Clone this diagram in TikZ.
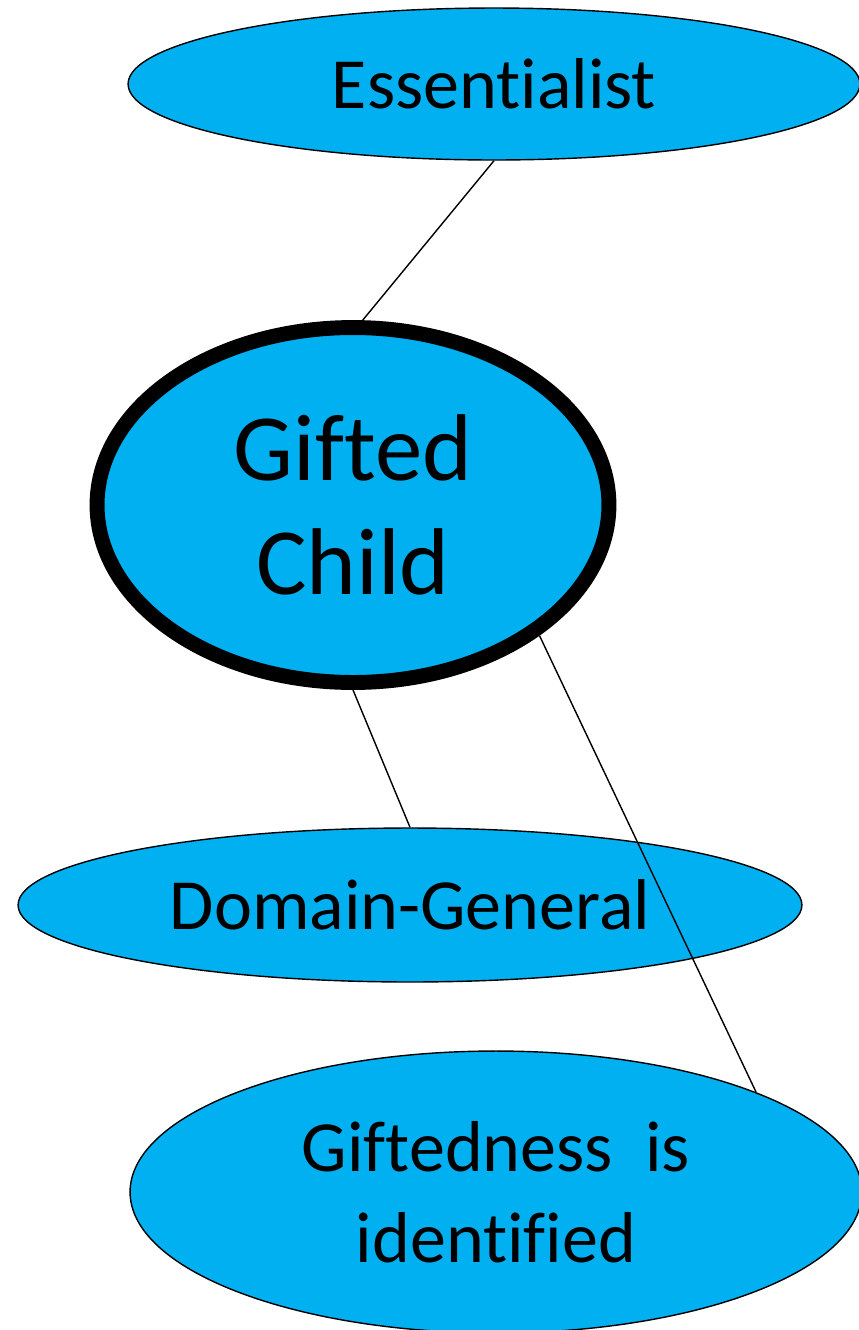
\documentclass[tikz,border=0pt]{standalone}
\usepackage{fontspec}
\setmainfont{Carlito}[Ligatures=NoCommon]
\usetikzlibrary{shapes.geometric}
\definecolor{skyfill}{RGB}{0,176,240}
\tikzset{
  bubble/.style = {ellipse, draw = black, fill = skyfill, line width = 0.8pt, inner sep = 0pt, align = center, font = \fontsize{41}{52}\selectfont},
  link/.style = {draw = black, line width = 0.8pt}
}
\begin{document}
\begin{tikzpicture}[x=0.02cm, y=-0.02cm]
        \useasboundingbox (0,0) rectangle (859,1330);
        \node[bubble, minimum width = 14.64cm, minimum height = 3.04cm] (ess) at (494,84) {Essentialist};
        \node[bubble, line width = 8.5pt, minimum width = 10.24cm, minimum height = 7.1cm, font = \fontsize{54}{64.6}\selectfont] (gc) at (353,505) {Gifted\\Child};
        \node[bubble, minimum width = 15.68cm, minimum height = 3.08cm] (dg) at (410,905) {Domain-General};
        \node[bubble, minimum width = 14.64cm, minimum height = 5.64cm] (gi) at (496,1192) {Giftedness~~is\\identified};
        \draw[link] (ess.south) -- (gc.87);
        \draw[link] (gc.south) -- (dg.north);
        \draw[link] (gc.-35) -- (gi.21);
      \end{tikzpicture}
\end{document}
